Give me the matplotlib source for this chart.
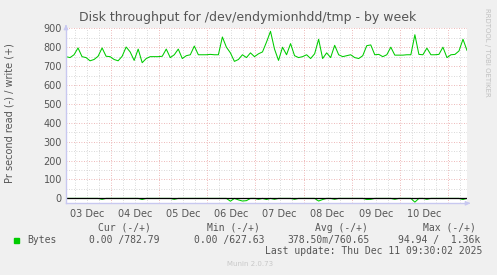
import numpy as np
import matplotlib.pyplot as plt

# Munin "by week" disk throughput, one sample every 2 hours
# time axis: hours since 03 Dec 00:00
t_start = 1.5
t_step = 2.0

write_bytes = [
    750, 745, 760, 796, 750, 745, 728, 735, 752, 796,
    752, 750, 735, 728, 752, 801, 775, 730, 790, 718,
    740, 750, 750, 750, 752, 790, 745, 760, 790, 740,
    755, 760, 806, 760, 760, 760, 762, 760, 760, 854,
    800, 770, 725, 735, 760, 745, 770, 750, 765, 775,
    827, 884, 790, 730, 800, 760, 819, 755, 745, 750,
    760, 740, 765, 842, 740, 770, 745, 810, 760, 750,
    755, 760, 745, 740, 755, 808, 812, 760, 762, 750,
    760, 800, 758, 758, 758, 760, 760, 866, 762, 760,
    795, 760, 760, 762, 800, 745, 760, 762, 780, 842,
    783,
]

# read is drawn below zero (-)
read_dips = {9: 5, 19: 6, 27: 5, 41: 15, 43: 8, 44: 14, 45: 12, 48: 5,
             50: 6, 52: 5, 57: 5, 63: 14, 64: 6, 67: 5, 75: 6, 76: 5,
             82: 5, 87: 20, 90: 5, 99: 6}

day_labels = ['03 Dec', '04 Dec', '05 Dec', '06 Dec', '07 Dec', '08 Dec', '09 Dec', '10 Dec']

legend_head = ['Cur (-/+)', 'Min (-/+)', 'Avg (-/+)', 'Max (-/+)']
legend_vals = ['0.00 /782.79', '0.00 /627.63', '378.50m/760.65', '94.94 /  1.36k']

hours = t_start + t_step * np.arange(len(write_bytes))
read_bytes = np.zeros(len(write_bytes))
for k, v in read_dips.items():
    read_bytes[k] = v

green = '#00cc00'
W, H = 497, 275

fig = plt.figure(figsize=(W / 100, H / 100), dpi=100, facecolor='#f0f0f0')
ax = fig.add_axes([66 / W, (H - 203.3) / H, (467 - 66) / W, (203.3 - 28.3) / H])
ax.set_facecolor('white')

ax.plot(hours, write_bytes, color=green, linewidth=0.75)
ax.plot(hours, -read_bytes, color=green, linewidth=0.75)
ax.axhline(0, color='black', linewidth=0.9)

ax.set_xlim(t_start, 201.5)
ax.set_ylim(-26, 900)

# grid: red dotted majors, gray dotted minors
for y in range(50, 900, 100):
    ax.axhline(y, color='#cccccc', linestyle=(0, (1, 2)), linewidth=0.6, zorder=0)
for y in range(100, 901, 100):
    ax.axhline(y, color='#e8a0a0', linestyle=(0, (1, 2)), linewidth=0.6, zorder=0)
for h in range(6, 202, 6):
    if h % 24 == 0:
        ax.axvline(h, color='#e8a0a0', linestyle=(0, (1, 2)), linewidth=0.6, zorder=0)
    else:
        ax.axvline(h, color='#cccccc', linestyle=(0, (1, 2)), linewidth=0.6, zorder=0)

ax.set_yticks(range(0, 901, 100))
ax.set_yticklabels([str(v) for v in range(0, 901, 100)])
ax.set_xticks([12 + 24 * i for i in range(len(day_labels))])
ax.set_xticklabels(day_labels)
ax.tick_params(axis='both', length=0, labelsize=7, colors='#555555', pad=4)
ax.tick_params(axis='y', pad=3)

for s in ['top', 'right']:
    ax.spines[s].set_visible(False)
for s in ['left', 'bottom']:
    ax.spines[s].set_color('#c8c8f0')
    ax.spines[s].set_linewidth(1.0)

# arrows at the axis ends
ax.annotate('', xy=(473 / W, (H - 203.3) / H), xytext=(466 / W, (H - 203.3) / H),
            xycoords='figure fraction',
            arrowprops=dict(arrowstyle='-|>', color='#c8c8f0', lw=1, mutation_scale=6))
ax.annotate('', xy=(66 / W, (H - 22) / H), xytext=(66 / W, (H - 29) / H),
            xycoords='figure fraction',
            arrowprops=dict(arrowstyle='-|>', color='#c8c8f0', lw=1, mutation_scale=6))

fig.text(248 / W, (H - 18) / H, 'Disk throughput for /dev/endymionhdd/tmp - by week',
         ha='center', va='center', fontsize=9, color='#555555')
fig.text(10 / W, (H - 113) / H, 'Pr second read (-) / write (+)', rotation=90,
         ha='center', va='center', fontsize=7, color='#555555')
fig.text(487 / W, (H - 52) / H, 'RRDTOOL / TOBI OETIKER', rotation=270,
         ha='center', va='center', fontsize=5, color='#c0c0c0')

mono = 'DejaVu Sans Mono'
head_x = [98, 207, 315, 423]
for x, s in zip(head_x, legend_head):
    fig.text(x / W, (H - 228) / H, s, fontsize=7, family=mono, color='#555555', va='center')
val_x = [89, 194, 287, 398]
for x, s in zip(val_x, legend_vals):
    fig.text(x / W, (H - 240) / H, s, fontsize=7, family=mono, color='#555555', va='center')
fig.patches.append(plt.Rectangle((14 / W, (H - 243) / H), 5 / W, 5 / H,
                                 transform=fig.transFigure, color=green))
fig.text(27 / W, (H - 240) / H, 'Bytes', fontsize=7, family=mono, color='#555555', va='center')
fig.text(482 / W, (H - 251) / H, 'Last update: Thu Dec 11 09:30:02 2025', ha='right',
         fontsize=7, family=mono, color='#555555', va='center')
fig.text(250 / W, (H - 264) / H, 'Munin 2.0.73', ha='center', fontsize=5,
         color='#c8c8c8', va='center')

fig.savefig('out.png', dpi=100, facecolor=fig.get_facecolor())
